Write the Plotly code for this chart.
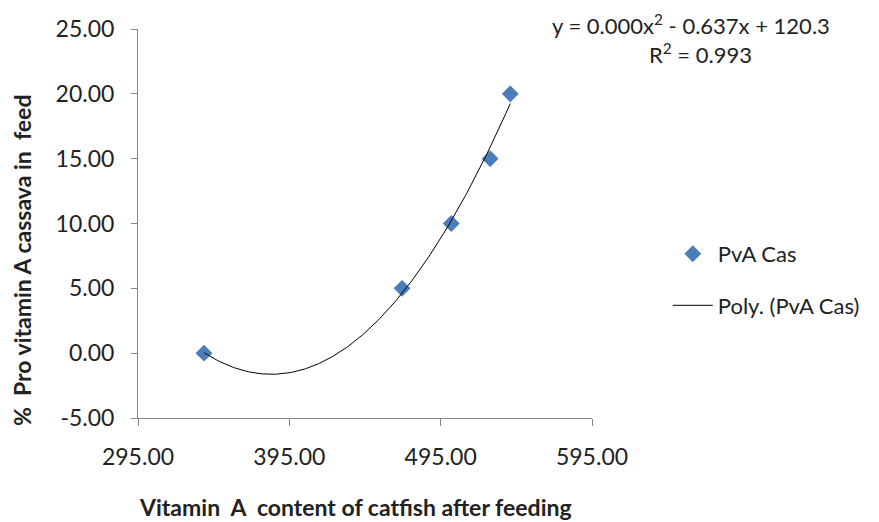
import numpy as np
import plotly.graph_objects as go

# Data
vit_a = [338.6, 469.5, 502.0, 527.7, 541.0]
pva_pct = [0, 5, 10, 15, 20]
series_name = "PvA Cas"
trend_name = "Poly. (PvA Cas)"
eq_text = "y = 0.000x<sup>2</sup> - 0.637x + 120.3"
r2_text = "R<sup>2</sup> = 0.993"
x_title = "Vitamin\u00a0\u00a0A\u00a0\u00a0content of catfish after feeding"
y_title = "%\u00a0\u00a0Pro vitamin A cassava in\u00a0\u00a0feed"
x_ticks = [295, 395, 495, 595]
y_ticks = [-5, 0, 5, 10, 15, 20, 25]

# Polynomial (order 2) trend line from the data
coef = np.polyfit(vit_a, pva_pct, 2)
xs = np.linspace(min(vit_a), max(vit_a), 200)
ys = np.polyval(coef, xs)

font_family = "Lato, 'Open Sans', sans-serif"
FS = 22
TS = 23
TT = 23

fig = go.Figure()
fig.add_trace(go.Scatter(
    x=vit_a, y=pva_pct, mode="markers", name=series_name, legendgroup="a",
    marker=dict(symbol="diamond", size=13, color="#4a7ebb"),
))
fig.add_trace(go.Scatter(
    x=xs, y=ys, mode="lines", name=trend_name, legendgroup="b",
    line=dict(color="black", width=1),
))

fig.update_layout(
    width=871, height=514,
    margin=dict(l=130, r=287, t=21, b=104),
    paper_bgcolor="white", plot_bgcolor="white",
    font=dict(family=font_family, size=FS, color="#222"),
    showlegend=True,
    legend=dict(x=1.167, y=0.355, xanchor="left", yanchor="middle",
                font=dict(size=FS), tracegroupgap=20, itemwidth=40,
                bgcolor="rgba(0,0,0,0)"),
    xaxis=dict(range=[295, 595], tickvals=x_ticks,
               ticktext=[f"{v:.2f}" for v in x_ticks],
               showgrid=False, zeroline=False, showline=True, automargin=False,
               linecolor="#888", linewidth=1, ticks="outside", ticklen=7,
               tickcolor="#888", tickfont=dict(size=TS), ticklabelstandoff=11),
    yaxis=dict(range=[-5, 25], tickvals=y_ticks,
               ticktext=[f"{v:.2f}" for v in y_ticks],
               showgrid=False, zeroline=False, showline=True, automargin=False,
               linecolor="#888", linewidth=1, ticks="outside", ticklen=6,
               tickcolor="#888", tickfont=dict(size=TS), ticklabelstandoff=12),
    annotations=[
        dict(text=eq_text, x=1.218, y=1.012, xref="paper", yref="paper",
             xanchor="center", yanchor="middle", showarrow=False,
             font=dict(size=FS)),
        dict(text=r2_text, x=1.238, y=0.937, xref="paper", yref="paper",
             xanchor="center", yanchor="middle", showarrow=False,
             font=dict(size=FS)),
        dict(text="<b>" + x_title + "</b>", x=0.478, y=-0.228, xref="paper",
             yref="paper", xanchor="center", yanchor="middle", showarrow=False,
             font=dict(size=TT)),
        dict(text="<b>" + y_title + "</b>", x=-0.2555, y=0.406, xref="paper",
             yref="paper", xanchor="center", yanchor="middle", showarrow=False,
             textangle=-90, font=dict(size=TT)),
    ],
)

fig.write_html("out.html")
